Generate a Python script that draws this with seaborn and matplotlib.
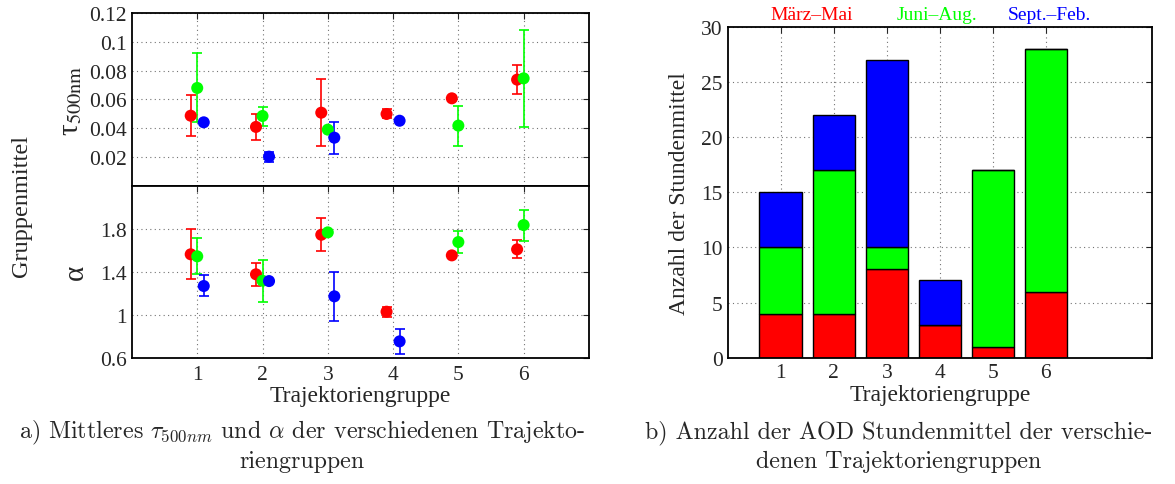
import numpy as np
import pandas as pd
import matplotlib
matplotlib.use("Agg")
import matplotlib.pyplot as plt
import seaborn as sns

nan = np.nan

groups = [1, 2, 3, 4, 5, 6]
seasons = ["März–Mai", "Juni–Aug.", "Sept.–Feb."]
season_colors = ["#ff0000", "#00ff00", "#0000ff"]

# tau 500nm: mean, lower and upper end of error bar
tau_mar_mai = [0.0487, 0.0409, 0.0508, 0.0499, 0.0608, 0.0738]
tau_mar_mai_lo = [0.0344, 0.0318, 0.0274, 0.0471, nan, 0.0638]
tau_mar_mai_hi = [0.0629, 0.0497, 0.0743, 0.0532, nan, 0.0838]
tau_jun_aug = [0.0680, 0.0485, 0.0390, nan, 0.0418, 0.0747]
tau_jun_aug_lo = [0.0443, 0.0418, nan, nan, 0.0278, 0.0406]
tau_jun_aug_hi = [0.0922, 0.0546, nan, nan, 0.0555, 0.1086]
tau_sep_feb = [0.0441, 0.0202, 0.0334, 0.0452, nan, nan]
tau_sep_feb_lo = [nan, 0.0163, 0.0223, nan, nan, nan]
tau_sep_feb_hi = [nan, 0.0237, 0.0446, nan, nan, nan]

# alpha: mean, lower and upper end of error bar
alpha_mar_mai = [1.562, 1.376, 1.744, 1.028, 1.552, 1.608]
alpha_mar_mai_lo = [1.329, 1.270, 1.593, 0.976, nan, 1.527]
alpha_mar_mai_hi = [1.797, 1.481, 1.900, 1.075, nan, 1.692]
alpha_jun_aug = [1.543, 1.316, 1.766, nan, 1.676, 1.834]
alpha_jun_aug_lo = [1.379, 1.121, nan, nan, 1.571, 1.686]
alpha_jun_aug_hi = [1.711, 1.509, nan, nan, 1.781, 1.977]
alpha_sep_feb = [1.267, 1.313, 1.171, 0.752, nan, nan]
alpha_sep_feb_lo = [1.171, nan, 0.941, 0.634, nan, nan]
alpha_sep_feb_hi = [1.367, nan, 1.400, 0.867, nan, nan]

# number of hourly means per group and season
count_mar_mai = [4, 4, 8, 3, 1, 6]
count_jun_aug = [6, 13, 2, 0, 16, 22]
count_sep_feb = [5, 5, 17, 4, 0, 0]

tau_yticks = [0.02, 0.04, 0.06, 0.08, 0.1, 0.12]
tau_yticklabels = ["0.02", "0.04", "0.06", "0.08", "0.1", "0.12"]
alpha_yticks = [0.6, 1.0, 1.4, 1.8]
alpha_yticklabels = ["0.6", "1", "1.4", "1.8"]
count_yticks = [0, 5, 10, 15, 20, 25, 30]

sns.set_style("white")
plt.rcParams["font.family"] = ["Liberation Serif", "DejaVu Serif"]
plt.rcParams["mathtext.fontset"] = "stix"

fig = plt.figure(figsize=(11.75, 4.85), dpi=100)
ax_tau = fig.add_axes([0.1123, 0.6151, 0.3889, 0.3555])
ax_alpha = fig.add_axes([0.1123, 0.2604, 0.3889, 0.3546])
ax_bar = fig.add_axes([0.6193, 0.2604, 0.3611, 0.6825])

offsets = [-0.1, 0.0, 0.1]
tick_fs = 15.5
label_fs = 17


def draw_points(ax, means, los, his):
    for k, (m, lo, hi) in enumerate(zip(means, los, his)):
        m = np.array(m, dtype=float)
        yerr = [m - np.array(lo, dtype=float), np.array(hi, dtype=float) - m]
        x = np.array(groups) + offsets[k]
        ax.errorbar(x, m, yerr=yerr, fmt="none", ecolor=season_colors[k],
                    elinewidth=1.2, capsize=3.5, capthick=1.2, zorder=3)
        df = pd.DataFrame({"x": x, "y": m}).dropna()
        sns.scatterplot(data=df, x="x", y="y", ax=ax, color=season_colors[k],
                        s=75, edgecolor="none", zorder=4, legend=False)


def style_axes(ax):
    ax.grid(True, linestyle=(0, (1, 3)), color="0.45", linewidth=0.8)
    ax.tick_params(direction="in", top=True, right=True, length=4,
                   labelsize=tick_fs, width=0.8)
    for sp in ax.spines.values():
        sp.set_linewidth(1.3)
        sp.set_color("black")
    ax.set_xlabel("")
    ax.set_ylabel("")


draw_points(ax_tau, [tau_mar_mai, tau_jun_aug, tau_sep_feb],
            [tau_mar_mai_lo, tau_jun_aug_lo, tau_sep_feb_lo],
            [tau_mar_mai_hi, tau_jun_aug_hi, tau_sep_feb_hi])
draw_points(ax_alpha, [alpha_mar_mai, alpha_jun_aug, alpha_sep_feb],
            [alpha_mar_mai_lo, alpha_jun_aug_lo, alpha_sep_feb_lo],
            [alpha_mar_mai_hi, alpha_jun_aug_hi, alpha_sep_feb_hi])

for ax in (ax_tau, ax_alpha):
    style_axes(ax)
    ax.set_xlim(0, 7)
    ax.set_xticks(groups)

ax_tau.set_ylim(0, 0.12)
ax_tau.set_yticks(tau_yticks)
ax_tau.set_yticklabels(tau_yticklabels)
ax_tau.tick_params(labelbottom=False)

ax_alpha.set_ylim(0.6, 2.2)
ax_alpha.set_yticks(alpha_yticks)
ax_alpha.set_yticklabels(alpha_yticklabels)
ax_alpha.set_xticklabels([str(g) for g in groups])
ax_alpha.tick_params(axis="x", pad=5)
ax_alpha.set_xlabel("Trajektoriengruppe", fontsize=label_fs, labelpad=1)

ax_tau.set_ylabel(r"τ$_{\mathrm{500nm}}$", fontsize=21, labelpad=4)
ax_alpha.set_ylabel("α", fontsize=21, labelpad=8)
fig.text(0.018, 1 - 206 / 485, "Gruppenmittel", rotation=90, fontsize=17.5,
         ha="center", va="center")

# stacked bars: seaborn stacks the last hue level at the bottom
bar_df = pd.DataFrame({
    "group": groups * 3,
    "season": [s for s in seasons for _ in groups],
    "count": count_mar_mai + count_jun_aug + count_sep_feb,
})
sns.histplot(data=bar_df, x="group", weights="count", hue="season",
             hue_order=seasons[::-1], palette=season_colors[::-1],
             multiple="stack", discrete=True, shrink=0.8, alpha=1,
             edgecolor="black", linewidth=1.0, legend=False, ax=ax_bar)
style_axes(ax_bar)
ax_bar.set_axisbelow(True)
ax_bar.set_xlim(0, 8)
ax_bar.set_xticks(groups)
ax_bar.set_ylim(0, 30)
ax_bar.set_yticks(count_yticks)
ax_bar.tick_params(axis="x", pad=4)
ax_bar.set_xlabel("Trajektoriengruppe", fontsize=label_fs, labelpad=1)
ax_bar.set_ylabel("Anzahl der Stundenmittel", fontsize=label_fs, labelpad=8)

for name, col, xc in zip(seasons, season_colors, [812, 937, 1049]):
    fig.text(xc / 1175, 1 - 16 / 485, name, color=col, fontsize=14,
             ha="center", va="center")

# captions
cap_kw = dict(fontsize=17.3, ha="center", va="center", family="cmr10",
              math_fontfamily="cm")
fig.text(302 / 1175, 1 - 433 / 485,
         r"a) Mittleres $\tau_{500nm}$ und $\alpha$ der verschiedenen Trajekto-",
         **cap_kw)
fig.text(302 / 1175, 1 - 462 / 485, "riengruppen", **cap_kw)
fig.text(899 / 1175, 1 - 433 / 485,
         "b) Anzahl der AOD Stundenmittel der verschie-", **cap_kw)
fig.text(899 / 1175, 1 - 462 / 485, "denen Trajektoriengruppen", **cap_kw)

fig.savefig("out.png", dpi=100)
